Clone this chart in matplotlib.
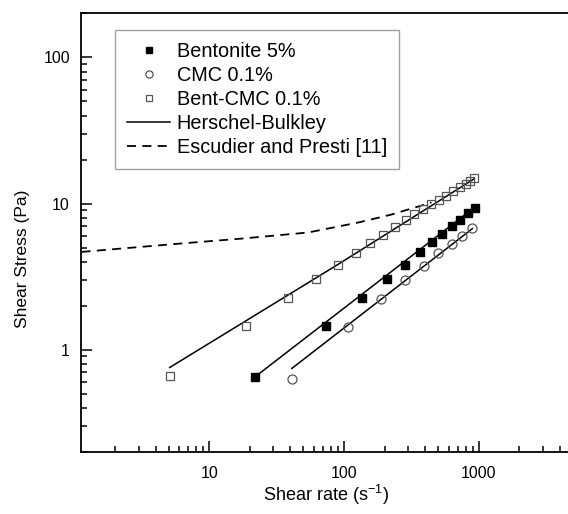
import numpy as np
import matplotlib
matplotlib.use("Agg")
import matplotlib.pyplot as plt
from matplotlib.ticker import LogLocator, FixedLocator, NullFormatter

plt.rcParams['font.family'] = ['Liberation Sans', 'DejaVu Sans']
plt.rcParams['mathtext.fontset'] = 'custom'
plt.rcParams['mathtext.rm'] = 'Liberation Sans'

# --- data ---
bent_rate = [22, 74, 137, 209, 284, 365, 448, 538, 638, 731, 828, 939]
bent_stress = [0.65, 1.46, 2.26, 3.04, 3.83, 4.63, 5.44, 6.24, 7.0, 7.78, 8.58, 9.33]

cmc_rate = [41, 108, 188, 284, 391, 502, 631, 757, 898]
cmc_stress = [0.63, 1.43, 2.21, 2.99, 3.75, 4.57, 5.33, 6.04, 6.81]

bcmc_rate = [5.1, 18.9, 38.3, 62.5, 91, 122, 157, 195, 239, 287, 333, 386,
             443, 508, 569, 644, 722, 801, 858, 929]
bcmc_stress = [0.66, 1.46, 2.25, 3.04, 3.79, 4.62, 5.35, 6.10, 6.88, 7.69, 8.49,
               9.14, 9.94, 10.6, 11.3, 12.1, 13.0, 13.7, 14.2, 15.0]

# Herschel-Bulkley fits (points along each fitted line)
hb_bent_rate = [22.7, 939]
hb_bent_stress = [0.67, 9.48]
hb_cmc_rate = [41, 898]
hb_cmc_stress = [0.745, 6.74]
hb_bcmc_rate = [5.1, 91, 929]
hb_bcmc_stress = [0.757, 3.85, 14.8]

# Escudier and Presti [11]
ep_rate = [1.13, 5.56, 17.4, 54.2, 127, 225, 421, 446]
ep_stress = [4.67, 5.29, 5.76, 6.34, 7.41, 8.41, 10.0, 10.2]

fig = plt.figure(figsize=(5.68, 5.14), dpi=100)
# the right end of the axes runs past the figure edge, as in the original
ax = fig.add_axes([0.1426, 0.1206, 0.9375, 0.8535])

ax.plot(ep_rate, ep_stress, color='black', lw=1.3, ls=(0, (5, 3.5)),
        label='Escudier and Presti [11]')
ax.plot(hb_bent_rate, hb_bent_stress, color='black', lw=1.1)
ax.plot(hb_cmc_rate, hb_cmc_stress, color='black', lw=1.1)
ax.plot(hb_bcmc_rate, hb_bcmc_stress, color='black', lw=1.1,
        label='Herschel-Bulkley')

ax.plot(bent_rate, bent_stress, ls='none', marker='s', ms=6,
        mfc='black', mec='black', label='Bentonite 5%')
ax.plot(cmc_rate, cmc_stress, ls='none', marker='o', ms=6.5,
        mfc='none', mec='#555555', mew=0.9, label='CMC 0.1%')
ax.plot(bcmc_rate, bcmc_stress, ls='none', marker='s', ms=6,
        mfc='none', mec='#555555', mew=0.9, label='Bent-CMC 0.1%')

ax.set_xscale('log')
ax.set_yscale('log')
ax.set_xlim(1.12, 10000)
ax.set_ylim(0.2, 200)

ax.xaxis.set_major_locator(FixedLocator([10, 100, 1000]))
ax.yaxis.set_major_locator(FixedLocator([1, 10, 100]))
ax.xaxis.set_minor_locator(LogLocator(base=10, subs=np.arange(2, 10)))
ax.yaxis.set_minor_locator(LogLocator(base=10, subs=np.arange(2, 10)))
ax.xaxis.set_minor_formatter(NullFormatter())
ax.yaxis.set_minor_formatter(NullFormatter())
ax.set_xticklabels(['10', '100', '1000'])
ax.set_yticklabels(['1', '10', '100'])

ax.tick_params(which='both', direction='in', top=False, right=False,
               labelsize=11.5, width=1.1)
ax.tick_params(which='major', length=8)
ax.tick_params(axis='x', which='major', pad=10)
ax.tick_params(axis='y', which='major', pad=8)
ax.tick_params(which='minor', length=4.5)
for sp in ax.spines.values():
    sp.set_linewidth(1.3)

ax.set_xlabel('Shear rate (s$^{-1}$)', fontsize=13)
ax.set_ylabel('Shear Stress (Pa)', fontsize=12.5)
ax.xaxis.set_label_coords(0.46, -0.07)
ax.yaxis.set_label_coords(-0.095, 0.44)

handles, labels = ax.get_legend_handles_labels()
order = [labels.index(l) for l in ['Bentonite 5%', 'CMC 0.1%', 'Bent-CMC 0.1%',
                                     'Herschel-Bulkley', 'Escudier and Presti [11]']]
leg = ax.legend([handles[i] for i in order], [labels[i] for i in order],
                loc='upper left', bbox_to_anchor=(0.064, 0.962),
                borderaxespad=0, fontsize=14.3, frameon=True, fancybox=False,
                handlelength=2.15, handletextpad=0.34, labelspacing=0.25,
                borderpad=0.62, markerscale=0.8)
leg.get_frame().set_edgecolor('#888888')
leg.get_frame().set_linewidth(1.0)

fig.savefig('out.png', dpi=100)
